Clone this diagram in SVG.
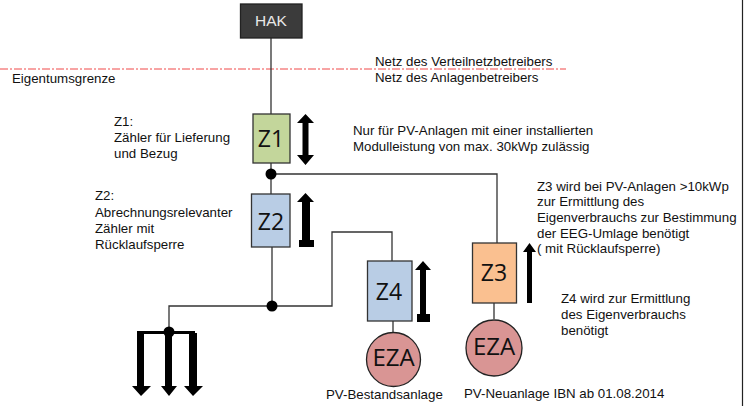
<svg xmlns="http://www.w3.org/2000/svg" width="754" height="406" viewBox="0 0 754 406">
<style>
text{font-family:"Liberation Sans",Arial,sans-serif;font-size:13.3px;fill:#111}
.big{font-family:"Open Sans","Liberation Sans",sans-serif;font-size:23px;text-anchor:middle;fill:#111}
.box{stroke:#333;stroke-width:1.3}
.eza{fill:#d99594;stroke:#222;stroke-width:1.3}
.w{fill:none;stroke:#333;stroke-width:1.3}
.a{fill:#000;stroke:none}
</style>
<rect width="754" height="406" fill="#fff"/>
<line x1="742.500" y1="0" x2="742.500" y2="406" stroke="#222" stroke-width="1.200"/>
<line x1="0" y1="69" x2="566" y2="69" stroke="#f04848" stroke-width="1" stroke-dasharray="8 2 2 2"/>
<g id="connectors">
<path class="w" d="M271 38V114M271 163V194M271 174H497V243M272 247V306M272 306H169V332M272 306H332V232H392V261M393 321V334M494 303V319"/>
<circle cx="271" cy="174" r="5.500" fill="#000"/>
<circle cx="272" cy="306" r="5.500" fill="#000"/>
<circle cx="169" cy="332" r="5.500" fill="#000"/>
<path class="a" d="M137 331H195V334H137Z"/>
<path class="a" d="M137 333H144V386H151L141 396L132 386H137Z"/>
<path class="a" d="M165 333H172V386H177L169 396L161 386H165Z"/>
<path class="a" d="M189 333H197V386H203L193 396L184 386H189Z"/>
</g>
<g id="hak"><rect x="240.500" y="4" width="61.500" height="34" fill="#3b3b3b" stroke="#222" stroke-width="1.300"/><text x="271" y="26" style="font-size:15.500px;fill:#e8e8e8" text-anchor="middle">HAK</text></g>
<g id="z1"><rect class="box" x="253" y="114" width="37" height="49" fill="#c3d69b"/><text class="big" x="271" y="147">Z1</text>
<path class="a" d="M305.500 114L314 123H308.500V155H314L305.500 165L297 155H302.500V123H297Z"/></g>
<g id="z2"><rect class="box" x="251.500" y="194" width="38.500" height="53" fill="#b9cde5"/><text class="big" x="271" y="230">Z2</text>
<path class="a" d="M305.500 193L314 202H310V240H314V247H299V240H302V202H297Z"/></g>
<g id="z3"><rect class="box" x="472.500" y="243" width="44" height="60" fill="#fac090"/><text class="big" x="494" y="281">Z3</text>
<path class="a" d="M529.500 243L536 252H532V303H527V252H523Z"/></g>
<g id="z4"><rect class="box" x="367.500" y="261" width="44.500" height="60" fill="#b9cde5"/><text class="big" x="389" y="300">Z4</text>
<path class="a" d="M423 261L431 270H426V314H430V322H417V314H420V270H415Z"/></g>
<g id="eza1"><circle class="eza" cx="393.500" cy="359.500" r="27"/><text class="big" x="393.500" y="366" style="font-size:24px">EZA</text></g>
<g id="eza2"><circle class="eza" cx="494" cy="348" r="28"/><text class="big" x="494" y="355" style="font-size:24px">EZA</text></g>
<g id="labels">
<text x="375" y="66">Netz des Verteilnetzbetreibers</text>
<text x="375" y="82">Netz des Anlagenbetreibers</text>
<text x="12" y="83">Eigentumsgrenze</text>
<text x="114" y="126">Z1:</text>
<text x="114" y="142">Zähler für Lieferung</text>
<text x="114" y="158">und Bezug</text>
<text x="353" y="135">Nur für PV-Anlagen mit einer installierten</text>
<text x="353" y="151">Modulleistung von max. 30kWp zulässig</text>
<text x="95" y="200">Z2:</text>
<text x="95" y="217">Abrechnungsrelevanter</text>
<text x="95" y="233">Zähler mit</text>
<text x="95" y="249">Rücklaufsperre</text>
<text x="537" y="191">Z3 wird bei PV-Anlagen &gt;10kWp</text>
<text x="537" y="206">zur Ermittlung des</text>
<text x="537" y="222">Eigenverbrauchs zur Bestimmung</text>
<text x="537" y="238">der EEG-Umlage benötigt</text>
<text x="537" y="253">( mit Rücklaufsperre)</text>
<text x="561" y="303">Z4 wird zur Ermittlung</text>
<text x="561" y="319">des Eigenverbrauchs</text>
<text x="561" y="335">benötigt</text>
<text x="326" y="399">PV-Bestandsanlage</text>
<text x="464" y="398">PV-Neuanlage IBN ab 01.08.2014</text>
</g>
</svg>
